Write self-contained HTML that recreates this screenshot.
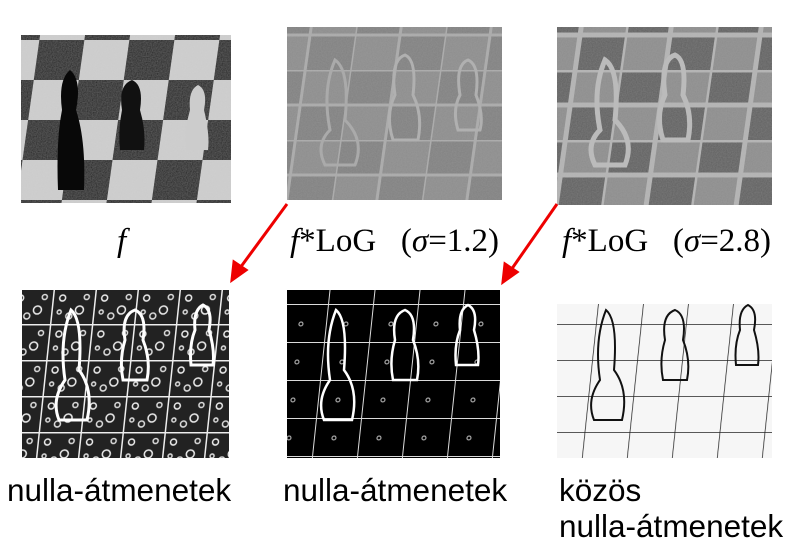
<!DOCTYPE html>
<html><head><meta charset="utf-8"><style>
body{margin:0;width:812px;height:551px;background:#fff;position:relative;overflow:hidden;font-family:"Liberation Sans",sans-serif}
.lbl{position:absolute;font-size:31.5px;color:#000;white-space:nowrap;line-height:36px}
.ser{position:absolute;font-family:"Liberation Serif",serif;font-size:33px;white-space:nowrap;line-height:38px}
svg{position:absolute}
</style></head><body>
<svg width="812" height="551" style="left:0;top:0">
<defs>
<filter id="noise" x="0" y="0" width="100%" height="100%"><feTurbulence type="fractalNoise" baseFrequency="0.8" numOctaves="2" result="n"/><feColorMatrix in="n" type="matrix" values="0 0 0 0 0.5  0 0 0 0 0.5  0 0 0 0 0.5  0 0 0 0.22 0" result="g"/><feComposite in="g" in2="SourceGraphic" operator="atop"/></filter>
<pattern id="chk1" width="90" height="80" patternUnits="userSpaceOnUse" patternTransform="skewX(-8)"><rect width="90" height="80" fill="#cfcfcf"/><rect width="45" height="40" fill="#161616"/><rect x="45" y="40" width="45" height="40" fill="#161616"/></pattern>
<pattern id="chk2" width="90" height="70" patternUnits="userSpaceOnUse" patternTransform="skewX(-8)"><rect width="90" height="70" fill="#8c8c8c"/><rect width="45" height="35" fill="#808080"/><rect x="45" y="35" width="45" height="35" fill="#808080"/><path d="M0 0H90M0 35H90M45 0V70M0 0V70" stroke="#aaa" stroke-width="3"/></pattern>
<pattern id="chk3" width="90" height="70" patternUnits="userSpaceOnUse" patternTransform="skewX(-8)"><rect width="90" height="70" fill="#8c8c8c"/><rect width="45" height="35" fill="#5e5e5e"/><rect x="45" y="35" width="45" height="35" fill="#5e5e5e"/><path d="M0 0H90M0 35H90M45 0V70M0 0V70" stroke="#b4b4b4" stroke-width="5"/></pattern>
<pattern id="grid1" width="42" height="36" patternUnits="userSpaceOnUse" patternTransform="skewX(-6)"><rect width="42" height="36" fill="#222"/><path d="M0 0H42M0 0V36" stroke="#eee" stroke-width="3"/><circle cx="10" cy="10" r="3" fill="none" stroke="#eee" stroke-width="1.5"/><circle cx="28" cy="22" r="4" fill="none" stroke="#eee" stroke-width="1.5"/><circle cx="18" cy="28" r="3" fill="none" stroke="#ddd" stroke-width="1.5"/><circle cx="34" cy="9" r="2.5" fill="none" stroke="#ddd" stroke-width="1.5"/><circle cx="8" cy="24" r="2" fill="none" stroke="#ddd" stroke-width="1.5"/></pattern>
<pattern id="grid2" width="45" height="38" patternUnits="userSpaceOnUse" patternTransform="skewX(-6)"><rect width="45" height="38" fill="#000"/><path d="M0 0H45M0 0V38" stroke="#ddd" stroke-width="2"/><circle cx="20" cy="20" r="2" fill="none" stroke="#ccc"/></pattern>
<pattern id="grid3" width="45" height="36" patternUnits="userSpaceOnUse" patternTransform="skewX(-6)"><rect width="45" height="36" fill="#f6f6f6"/><path d="M0 0H45M0 0V36" stroke="#222" stroke-width="1.5"/></pattern>
</defs>
<g>
<rect x="21" y="35" width="210" height="168" fill="url(#chk1)" filter="url(#noise)"/>
<path d="M62 110 q-4 -30 8 -40 q12 10 6 40 q10 30 8 80 h-26 q-2 -50 4 -80z" fill="#080808"/>
<path d="M122 110 q-4 -25 10 -30 q12 5 8 30 q6 20 4 40 h-24 q-2 -20 2 -40z" fill="#111"/>
<path d="M190 110 q-2 -20 8 -25 q10 5 6 25 q6 25 4 40 h-22 q-2 -20 4 -40z" fill="#ccc"/>
</g>
<g>
<rect x="287" y="27" width="215" height="173" fill="url(#chk2)" filter="url(#noise)"/>
<path d="M330 130 q-8 -40 5 -70 q15 10 10 60 q20 20 10 45 h-30 q-10 -20 5 -35z" fill="none" stroke="#aaa" stroke-width="3"/>
<path d="M395 95 q-5 -35 10 -40 q12 5 8 40 q10 20 5 45 h-25 q-8 -25 2 -45z" fill="none" stroke="#b0b0b0" stroke-width="3"/>
<path d="M460 95 q-5 -30 8 -35 q12 5 8 35 q8 20 4 35 h-22 q-6 -20 2 -35z" fill="none" stroke="#b0b0b0" stroke-width="3"/>
</g>
<g>
<rect x="557" y="27" width="215" height="178" fill="url(#chk3)" filter="url(#noise)"/>
<path d="M600 130 q-8 -40 5 -70 q15 10 10 60 q20 20 10 45 h-30 q-10 -20 5 -35z" fill="none" stroke="#bbb" stroke-width="5"/>
<path d="M665 95 q-5 -35 10 -40 q12 5 8 40 q10 20 5 45 h-25 q-8 -25 2 -45z" fill="none" stroke="#bbb" stroke-width="5"/>
</g>
<g>
<rect x="22" y="290" width="207" height="168" fill="url(#grid1)"/>
<path d="M65 380 q-6 -40 6 -70 q12 10 8 60 q15 20 8 50 h-28 q-8 -20 6 -40z M125 340 q-4 -25 10 -30 q12 5 8 30 q8 20 4 40 h-24 q-4 -20 2 -40z M195 330 q-2 -20 8 -25 q10 5 6 25 q6 20 4 35 h-22 q-2 -20 4 -35z" fill="none" stroke="#fff" stroke-width="3"/>
</g>
<g>
<rect x="287" y="290" width="213" height="168" fill="url(#grid2)"/>
<path d="M330 380 q-6 -40 6 -70 q12 10 8 60 q15 20 8 50 h-28 q-8 -20 6 -40z M395 340 q-4 -25 10 -30 q12 5 8 30 q8 20 4 40 h-24 q-4 -20 2 -40z M460 330 q-2 -20 8 -25 q10 5 6 25 q6 20 4 35 h-22 q-2 -20 4 -35z" fill="none" stroke="#fff" stroke-width="2.5"/>
</g>
<g>
<rect x="557" y="300" width="215" height="158" fill="url(#grid3)"/>
<rect x="557" y="290" width="215" height="14" fill="#fff"/>
<path d="M600 380 q-6 -40 6 -70 q12 10 8 60 q15 20 8 50 h-28 q-8 -20 6 -40z M665 340 q-4 -25 10 -30 q12 5 8 30 q8 20 4 40 h-24 q-4 -20 2 -40z M740 330 q-2 -20 8 -25 q10 5 6 25 q6 20 4 35 h-22 q-2 -20 4 -35z" fill="none" stroke="#111" stroke-width="2"/>
</g>
<g stroke="#e00" stroke-width="3" fill="#e00">
<line x1="287" y1="204" x2="240" y2="268"/><polygon points="232,280 234,262 246,270"/></g>
<g stroke="#e00" stroke-width="3" fill="#e00">
<line x1="557" y1="204" x2="511" y2="270"/><polygon points="503,282 505,264 517,272"/></g>
</svg>
<div class="ser" style="left:117px;top:222px;font-style:italic">f</div>
<div class="ser" style="left:290px;top:222px"><i>f</i>*LoG&nbsp;&nbsp;&nbsp;(<i>σ</i>=1.2)</div>
<div class="ser" style="left:562px;top:222px"><i>f</i>*LoG&nbsp;&nbsp;&nbsp;(<i>σ</i>=2.8)</div>
<div class="lbl" style="left:7px;top:472px">nulla-átmenetek</div>
<div class="lbl" style="left:283px;top:472px">nulla-átmenetek</div>
<div class="lbl" style="left:559px;top:472px">közös</div>
<div class="lbl" style="left:559px;top:508px">nulla-átmenetek</div>
</body></html>
